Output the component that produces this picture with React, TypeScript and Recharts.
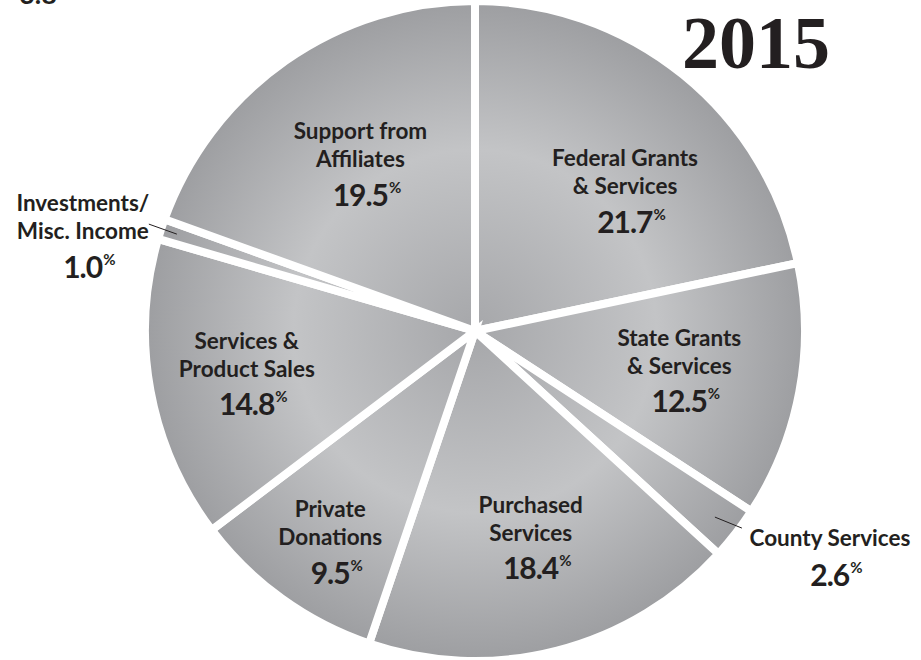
import React from 'react';
import { PieChart, Pie, Cell } from 'recharts';

// slice order: clockwise from 12 o'clock
const categories = [
  ['Federal Grants', '& Services'],
  ['State Grants', '& Services'],
  ['County Services'],
  ['Purchased', 'Services'],
  ['Private', 'Donations'],
  ['Services &', 'Product Sales'],
  ['Investments/', 'Misc. Income'],
  ['Support from', 'Affiliates'],
];
const shares = [21.7, 12.5, 2.6, 18.4, 9.5, 14.8, 1.0, 19.5];
const yearLabel = '2015';
const cutOffLabel = '3.8';

const data = shares.map((v, i) => ({ name: categories[i].join(' '), value: v }));

const RAD = Math.PI / 180;
const ink = '#231f20';
const font = 'Lato, "Open Sans", sans-serif';
const nameSize = 22.5;

// where each label sits: fraction of the radius, then a small nudge
const labelPos: Record<number, { f: number; dx: number; dy: number; outside?: boolean }> = {
  0: { f: 0.63, dx: 19, dy: 16 },
  1: { f: 0.63, dx: 0, dy: -4 },
  2: { f: 0.92, dx: 0, dy: 0, outside: true },
  3: { f: 0.63, dx: 4, dy: 0 },
  4: { f: 0.765, dx: 3, dy: 1 },
  5: { f: 0.703, dx: 0, dy: -5 },
  6: { f: 0.95, dx: 0, dy: 0, outside: true },
  7: { f: 0.63, dx: 5, dy: -2 },
};

const Name = ({ x, y, t }: { x: number; y: number; t: string }) => (
  <text x={x} y={y} textAnchor="middle" dominantBaseline="central" fill={ink}
    fontFamily={font} fontWeight={700} fontSize={nameSize}>
    {t}
  </text>
);

const Pct = ({ x, y, v }: { x: number; y: number; v: number }) => (
  <text x={x + 6} y={y} textAnchor="middle" dominantBaseline="central" fill={ink}
    fontFamily={font} fontWeight={700} fontSize={30} letterSpacing={-1}>
    {v.toFixed(1)}
    <tspan fontSize={15} dy={-7} dx={1}>%</tspan>
  </text>
);

const renderLabel = (props: any) => {
  const { cx, cy, midAngle, outerRadius, index } = props;
  const cfg = labelPos[index];
  const r = outerRadius * cfg.f;
  const px = cx + r * Math.cos(-midAngle * RAD);
  const py = cy + r * Math.sin(-midAngle * RAD);
  const lines = categories[index];
  const v = shares[index];

  if (cfg.outside) {
    if (index === 6) {
      const ex = px - 28, ey = py - 10;
      const tx = ex - 66;
      return (
        <g>
          <line x1={px} y1={py} x2={ex} y2={ey} stroke={ink} strokeWidth={1} />
          <Name x={tx} y={ey - 22} t={lines[0]} />
          <Name x={tx} y={ey + 6} t={lines[1]} />
          <Pct x={tx} y={ey + 42} v={v} />
        </g>
      );
    }
    const ex = px + 27, ey = py + 11;
    const tx = ex + 88;
    return (
      <g>
        <line x1={px} y1={py} x2={ex} y2={ey} stroke={ink} strokeWidth={1} />
        <Name x={tx} y={ey + 9} t={lines[0]} />
        <Pct x={tx} y={ey + 46} v={v} />
      </g>
    );
  }

  const x = px + cfg.dx;
  const y = py + cfg.dy;
  return (
    <g>
      <Name x={x} y={y - 28} t={lines[0]} />
      <Name x={x} y={y} t={lines[1]} />
      <Pct x={x} y={y + 35} v={v} />
    </g>
  );
};

export default function App() {
  return (
    <div style={{ position: 'absolute', left: 0, top: 0, width: 921, height: 660, background: '#fff' }}>
      <PieChart width={921} height={660} margin={{ top: 0, right: 0, bottom: 0, left: 0 }}>
        <defs>
          <radialGradient id="pieGrad" gradientUnits="userSpaceOnUse" cx={475} cy={331} r={330}>
            <stop offset="0%" stopColor="#a6a7aa" />
            <stop offset="55%" stopColor="#c3c4c6" />
            <stop offset="100%" stopColor="#9d9ea1" />
          </radialGradient>
        </defs>
        <Pie
          data={data}
          dataKey="value"
          nameKey="name"
          cx={475}
          cy={331}
          innerRadius={0}
          outerRadius={330}
          startAngle={90}
          endAngle={-270}
          stroke="#fff"
          strokeWidth={8}
          label={renderLabel}
          labelLine={false}
          isAnimationActive={false}
        >
          {data.map((d) => (
            <Cell key={d.name} fill="url(#pieGrad)" />
          ))}
        </Pie>
        <text x={756} y={68} textAnchor="middle" fill={ink}
          fontFamily='"Liberation Serif", "DejaVu Serif", serif' fontWeight={700} fontSize={74}>
          {yearLabel}
        </text>
        <text x={38} y={4} textAnchor="middle" fill={ink}
          fontFamily={font} fontWeight={700} fontSize={27}>
          {cutOffLabel}
        </text>
      </PieChart>
    </div>
  );
}
